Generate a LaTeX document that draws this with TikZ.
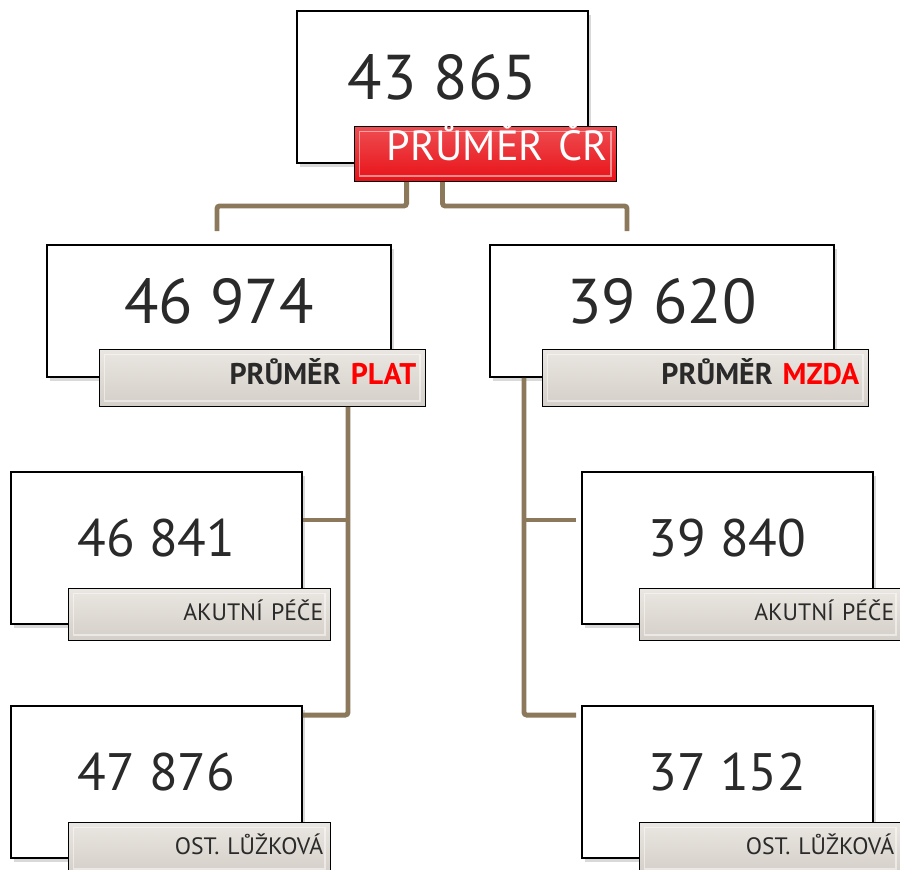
\documentclass[tikz,border=0pt]{standalone}
\usepackage{fontspec}
\setmainfont{PT Sans}
\usepackage{xcolor}
\usetikzlibrary{positioning,calc,shadows}

\definecolor{conncol}{RGB}{140,120,90}
\definecolor{numgray}{RGB}{42,42,42}
\definecolor{lblred}{RGB}{232,18,24}
\definecolor{lbltop}{RGB}{234,230,225}
\definecolor{lblbot}{RGB}{212,207,200}

\begin{document}
\begin{tikzpicture}[
    conn/.style={draw=conncol, line width=2.8pt, rounded corners=1.5pt},
    numbox/.style={draw=black, line width=1.1pt, fill=white, text=numgray, text depth=0.4cm,
        drop shadow={shadow xshift=0.05cm, shadow yshift=-0.07cm, opacity=0.3}},
    topnum/.style={numbox, minimum width=5.82cm, minimum height=3.04cm, font=\fontsize{36}{40}\selectfont},
    midnum/.style={numbox, minimum width=6.88cm, minimum height=2.64cm, font=\fontsize{36}{40}\selectfont},
    lownum/.style={numbox, minimum width=5.82cm, minimum height=3.04cm, font=\fontsize{30}{34}\selectfont},
    tag/.style={draw=black, line width=0.8pt, top color=lbltop, bottom color=lblbot, text=numgray,
        inner xsep=0.18cm, text height=1.45ex, text depth=0pt, align=right, anchor=south east,
        path picture={\draw[white, opacity=0.5, line width=0.7pt]
            ([shift={(3pt,3pt)}]path picture bounding box.south west) rectangle
            ([shift={(-3pt,-3pt)}]path picture bounding box.north east);}},
    crtag/.style={tag, top color=lblred!75!white, bottom color=lblred, text=white,
        minimum height=1.1cm, text width=4.88cm, font=\fontsize{24}{28}\selectfont},
    midtag/.style={tag, minimum height=1.14cm, text width=6.16cm, font=\fontsize{17}{20}\selectfont\bfseries},
    lowtag/.style={tag, minimum height=1.04cm, text width=4.96cm, inner xsep=0.14cm, font=\fontsize{13.5}{16}\selectfont},
]
    \useasboundingbox (0,0) rectangle (18,-17.4);
    \clip (0,0) rectangle (18,-17.4);

    % average
    \node[topnum] (cr) at (8.85,-1.74) {43 865};
    \node[crtag] (crlbl) at ($(cr.south east)+(0.56,-0.36)$) {PRŮMĚR ČR};

    % plat / mzda
    \node[midnum] (plat) at (4.38,-6.22) {46 974};
    \node[midtag] (platlbl) at ($(plat.south east)+(0.68,-0.58)$) {PRŮMĚR \textcolor{red}{PLAT}};
    \node[midnum] (mzda) at (13.24,-6.22) {39 620};
    \node[midtag] (mzdalbl) at ($(mzda.south east)+(0.68,-0.58)$) {PRŮMĚR \textcolor{red}{MZDA}};

    % left column
    \node[lownum] (akutL) at (3.13,-10.96) {46 841};
    \node[lowtag] (akutLlbl) at ($(akutL.south east)+(0.56,-0.32)$) {AKUTNÍ PÉČE};
    \node[lownum] (ostL) at (3.13,-15.64) {47 876};
    \node[lowtag] (ostLlbl) at ($(ostL.south east)+(0.56,-0.32)$) {OST. LŮŽKOVÁ};

    % right column
    \node[lownum] (akutR) at (14.55,-10.96) {39 840};
    \node[lowtag] (akutRlbl) at ($(akutR.south east)+(0.56,-0.32)$) {AKUTNÍ PÉČE};
    \node[lownum] (ostR) at (14.55,-15.64) {37 152};
    \node[lowtag] (ostRlbl) at ($(ostR.south east)+(0.56,-0.32)$) {OST. LŮŽKOVÁ};

    % connectors
    \coordinate (crL) at ($(crlbl.south west)+(1.06,0)$);
    \coordinate (crR) at (cr.south |- crlbl.south);
    \coordinate (platin) at ($(plat.north)+(-0.04,0.26)$);
    \coordinate (mzdain) at ($(mzda.north)+(-0.70,0.26)$);
    \draw[conn] (crL) -- ++(0,-0.48) -| (platin);
    \draw[conn] (crR) -- ++(0,-0.48) -| (mzdain);

    \coordinate (platbus) at ($(platlbl.south east)+(-1.56,0)$);
    \coordinate (akutLin) at ($(akutL.east)+(0,0.56)$);
    \coordinate (ostLin) at ($(ostL.north east)+(0,-0.2)$);
    \draw[conn] (platbus) |- (ostLin);
    \draw[conn] (akutLin) -- (akutLin -| platbus);

    \coordinate (mzdabus) at ($(mzda.south west)+(0.70,0)$);
    \coordinate (akutRin) at ($(akutR.west)+(-0.1,0.56)$);
    \coordinate (ostRin) at ($(ostR.north west)+(-0.1,-0.2)$);
    \draw[conn] (mzdabus) |- (ostRin);
    \draw[conn] (akutRin) -- (akutRin -| mzdabus);
\end{tikzpicture}
\end{document}
